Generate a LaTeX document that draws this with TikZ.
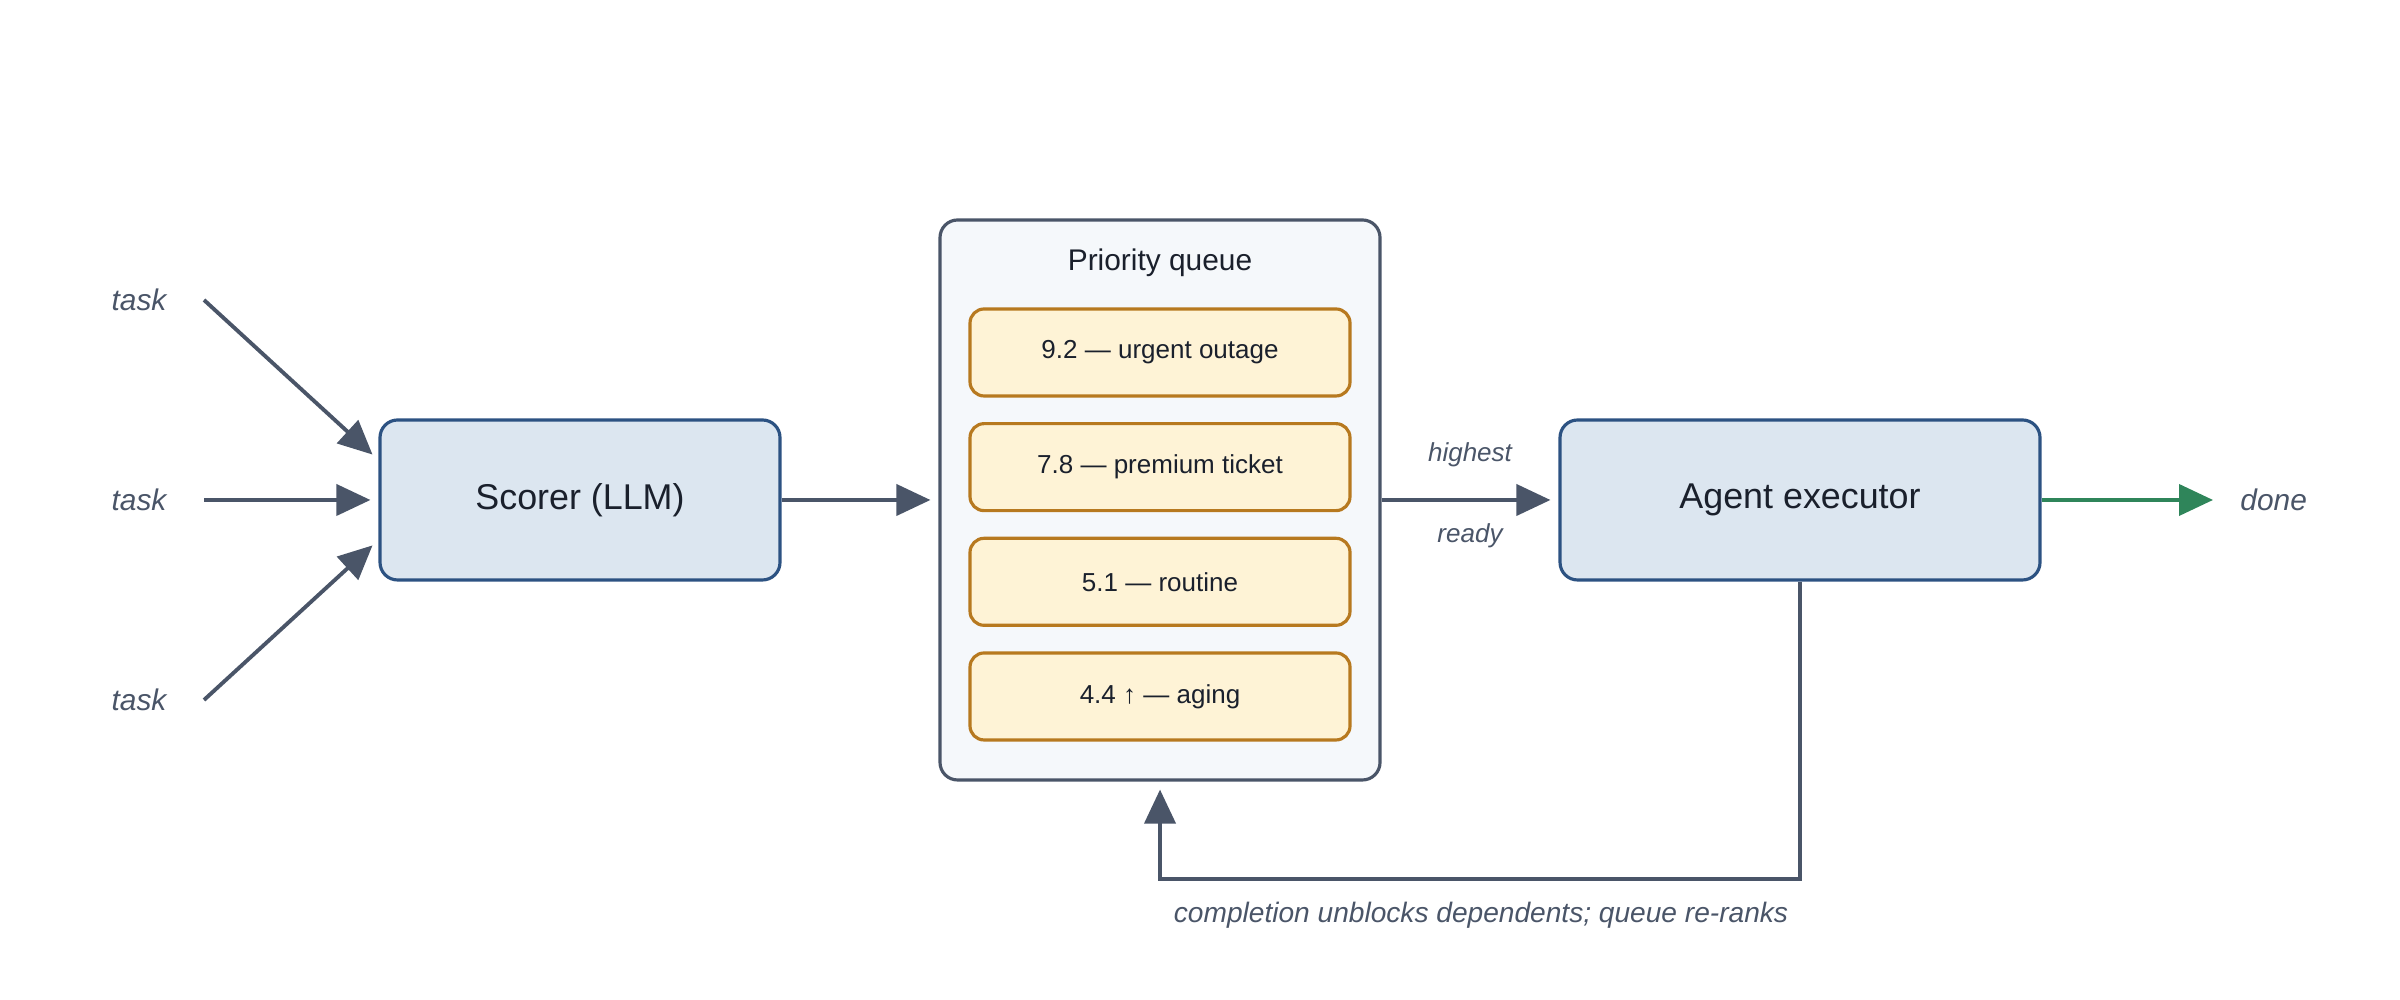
\documentclass[tikz,border=0pt]{standalone}
\usepackage{fontspec}
\setmainfont{Liberation Sans}
\usetikzlibrary{arrows.meta,positioning,calc}
\definecolor{PrioDark}{HTML}{1A202C}
\definecolor{PrioBlue}{HTML}{2C5282}
\definecolor{PrioBlueFill}{HTML}{DCE6F0}
\definecolor{PrioSlate}{HTML}{4A5568}
\definecolor{PrioPanel}{HTML}{F5F8FB}
\definecolor{PrioAmber}{HTML}{B7791F}
\definecolor{PrioAmberFill}{HTML}{FEF3D6}
\definecolor{PrioGreen}{HTML}{2F855A}
\tikzset{
  stagebox/.style={draw=PrioBlue, rounded corners=5pt, fill=PrioBlueFill,
                   line width=0.9pt, align=center,
                   font=\fontsize{10.2}{12}\selectfont\color{PrioDark},
                   minimum height=1.6cm},
  queuepanel/.style={draw=PrioSlate, rounded corners=5pt, fill=PrioPanel,
                     line width=0.9pt, minimum width=4.4cm, minimum height=5.6cm},
  queueitem/.style={draw=PrioAmber, rounded corners=4pt, fill=PrioAmberFill,
                    line width=0.9pt, align=center,
                    font=\fontsize{7.4}{9}\selectfont\color{PrioDark},
                    minimum width=3.8cm, minimum height=0.87cm},
  paneltitle/.style={font=\fontsize{8.5}{10}\selectfont\color{PrioDark}, align=center},
  arrow/.style={-{Triangle[length=3.4mm,width=3.1mm]}, line width=1.1pt,
                PrioSlate, shorten >=0.8mm},
  note/.style={font=\fontsize{8.5}{10}\selectfont\itshape\color{PrioSlate}, align=center},
  smallnote/.style={font=\fontsize{7.4}{9}\selectfont\itshape\color{PrioSlate}, align=center},
}

\begin{document}
\begin{tikzpicture}
  \useasboundingbox (0,0) rectangle (24,10);
  % 1 px of the 2400 x 1000 sheet = 0.01 cm

  \node[stagebox, minimum width=4.0cm] (scorer) at (5.8,5.0) {Scorer (LLM)};
  \node[queuepanel] (queue) at (11.6,5.0) {};
  \node[paneltitle] (qtitle) at (11.6,7.37) {Priority queue};
  \node[queueitem] (q1) at (11.6,6.475) {9.2 — urgent outage};
  \node[queueitem, below=0.245cm of q1] (q2) {7.8 — premium ticket};
  \node[queueitem, below=0.245cm of q2] (q3) {5.1 — routine};
  \node[queueitem, below=0.245cm of q3] (q4) {4.4 ↑ — aging};
  \node[stagebox, minimum width=4.8cm] (agent) at (18.0,5.0) {Agent executor};

  % incoming tasks
  \node[note] (task1) at (1.39,7.0) {task};
  \node[note] (task2) at (1.39,5.0) {task};
  \node[note] (task3) at (1.39,3.0) {task};
  \coordinate (in1) at (2.04,7.0);
  \coordinate (in2) at (2.04,5.0);
  \coordinate (in3) at (2.04,3.0);
  \draw[arrow] (in1) -- ($(scorer.west)+(0,0.4)$);
  \draw[arrow] (in2) -- (scorer.west);
  \draw[arrow] (in3) -- ($(scorer.west)+(0,-0.4)$);

  \draw[arrow] (scorer.east) -- (queue.west);
  \draw[arrow] (queue.east) -- (agent.west)
    node[smallnote, midway, yshift=0.45cm] (hi) {highest}
    node[smallnote, midway, yshift=-0.36cm] (rdy) {ready};

  \coordinate (doneend) at (22.13,5.0);
  \draw[arrow, PrioGreen, shorten >=0pt] (agent.east) -- (doneend);
  \node[note, anchor=west] (done) at (22.28,5.0) {done};

  % feedback loop
  \coordinate (loopR) at (18.0,1.21);
  \draw[arrow] (agent.south) -- (loopR) -| (queue.south);
  \node[note, font=\fontsize{8}{10}\selectfont\itshape\color{PrioSlate}] (caption)
    at (14.81,0.85) {completion unblocks dependents; queue re-ranks};
\end{tikzpicture}
\end{document}
